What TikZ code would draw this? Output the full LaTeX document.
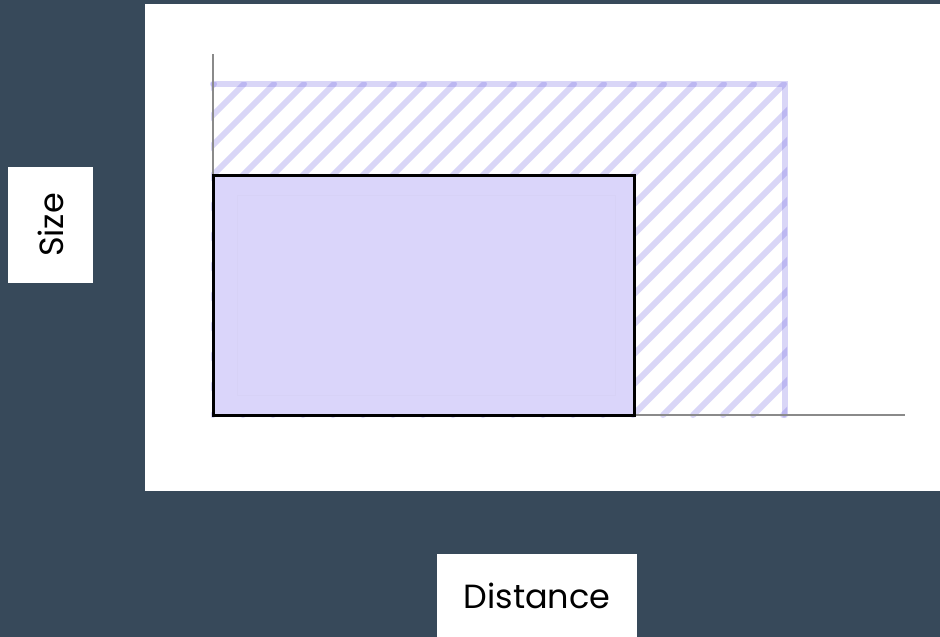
\documentclass[tikz,border=0pt]{standalone}
\usepackage{fontspec}
\setmainfont{Poppins}
\definecolor{SlateBg}{HTML}{37495A}
\definecolor{HatchViolet}{RGB}{98,85,225}
\definecolor{BoxViolet}{HTML}{DAD5FA}
\definecolor{AxisGray}{HTML}{8A8A8A}
\tikzset{
  labelbox/.style={fill=white, inner sep=0pt, font=\fontsize{33.5}{40}\selectfont},
  hatchline/.style={HatchViolet, opacity=0.24, line width=6pt, line cap=round}
}

\begin{document}
\begin{tikzpicture}[x=1pt, y=-1pt]
        % background and panel
        \fill[SlateBg] (0,0) rectangle (940,637);
        \fill[white] (145,4) rectangle (940,491);
        % hatched area
        \begin{scope}
            \clip (211,82) rectangle (787,417);
            \foreach \k in {-1,...,29} {
                \pgfmathsetmacro{\c}{328+30*\k}
                \draw[hatchline] (\c-84,84) -- ++(-331,331);
            }
        \end{scope}
        \draw[hatchline] (213,84) -- (785,84) -- (785,415);
        % axes
        \draw[AxisGray, line width=1.2pt] (213,54) coordinate (ytop) -- (213,415) coordinate (orig) -- (905,415) coordinate (xend);
        % filled box
        \fill[BoxViolet] (213,175) rectangle (634,415);
        \draw[BoxViolet!98.5!black, line width=0.6pt] (237,195) rectangle (615,395);
        \draw[black, line width=3pt] (213,175) rectangle (634,415);
        % labels
        \node[labelbox, minimum width=85pt, minimum height=116pt] (size) at (50.5,225) {\rotatebox{90}{Size}};
        \node[labelbox, minimum width=200pt, minimum height=83pt] (dist) at (537,595.5) {Distance};
    \end{tikzpicture}
\end{document}
